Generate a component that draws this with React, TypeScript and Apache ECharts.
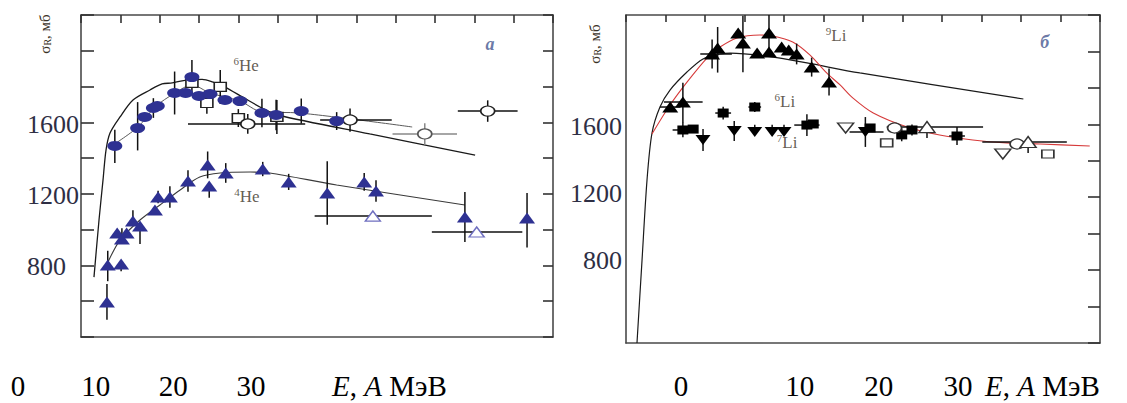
import React, { useEffect, useRef } from 'react';
import * as echarts from 'echarts';

// Each point: [E (МэВ/A), σR (мб), errDown, errUp, errLeft, errRight]
const he6Filled = [
  [4.3, 1468, 95, 90, 0, 0], [7.2, 1568, 125, 145, 0, 0], [8.1, 1630, 0, 0, 0, 0],
  [9.2, 1680, 55, 55, 0, 0], [9.7, 1691, 0, 0, 0, 0], [11.9, 1764, 120, 120, 0, 0],
  [13.3, 1764, 0, 0, 0, 0], [14.1, 1853, 90, 95, 0, 0], [15.0, 1747, 0, 0, 0, 0],
  [16.4, 1758, 0, 0, 0, 0], [18.3, 1725, 0, 0, 0, 0], [20.2, 1719, 0, 0, 0, 0],
  [23.0, 1652, 80, 80, 0, 0], [24.8, 1641, 85, 85, 0, 0], [28.0, 1663, 70, 70, 0, 0],
  [32.5, 1607, 50, 50, 0, 0],
];
const he6OpenSquares = [
  [14.1, 1820, 0, 0, 0, 0], [17.7, 1798, 95, 95, 0, 0], [16.0, 1708, 60, 0, 0, 0],
  [20.0, 1624, 50, 50, 0, 0], [24.9, 1630, 95, 95, 0, 0],
];
const he6OpenCircles = [
  [21.2, 1591, 55, 55, 7.6, 7.3], [34.2, 1613, 65, 65, 3.8, 5.3], [51.7, 1663, 60, 60, 3.8, 3.8],
];
const he6OpenCirclesFaint = [[43.7, 1535, 60, 60, 4.1, 4.1]];
const he4Filled = [
  [3.3, 596, 100, 100, 0, 0], [3.4, 802, 90, 80, 0, 0], [5.1, 808, 40, 0, 0, 0],
  [4.6, 981, 0, 0, 0, 0], [5.2, 948, 0, 60, 0, 0], [5.8, 981, 0, 0, 0, 0],
  [6.6, 1048, 0, 60, 0, 0], [7.5, 1020, 100, 0, 0, 0], [9.4, 1110, 0, 0, 0, 0],
  [9.8, 1183, 35, 35, 0, 0], [11.3, 1183, 60, 60, 0, 0], [13.6, 1272, 60, 60, 0, 0],
  [16.1, 1362, 75, 75, 0, 0], [16.3, 1244, 65, 0, 0, 0], [18.4, 1317, 55, 55, 0, 0],
  [23.1, 1339, 40, 40, 0, 0], [26.4, 1267, 45, 45, 0, 0], [31.3, 1205, 178, 178, 0, 0],
  [36.0, 1267, 50, 50, 0, 0], [37.5, 1216, 60, 60, 0, 0], [48.8, 1071, 140, 140, 0, 0],
  [56.7, 1065, 165, 140, 0, 0],
];
const he4Open = [[37.1, 1076, 0, 0, 7.4, 7.5], [50.3, 987, 0, 0, 5.7, 5.8]];

const he6Model = [
  [1.65, 735], [2.29, 1054], [2.8, 1278], [3.18, 1445], [3.69, 1540], [4.96, 1630],
  [6.61, 1725], [8.77, 1781], [10.3, 1815], [11.6, 1820], [13.2, 1835], [15.4, 1840],
  [16.7, 1826], [18.3, 1797], [20.5, 1742], [23.0, 1680], [25.0, 1641], [36.7, 1535], [50.1, 1417],
];
const he6Guide = [
  [3.69, 1462], [7.25, 1574], [9.41, 1686], [11.95, 1764], [14.1, 1809], [16.4, 1764],
  [20.2, 1719], [23.0, 1658], [27.8, 1652], [42.1, 1574],
];
const he4Guide = [
  [3.43, 819], [4.96, 942], [7.5, 1054], [10.04, 1138], [12.6, 1222], [15.1, 1294],
  [17.7, 1317], [21.5, 1322], [24.0, 1317], [32.5, 1250], [48.8, 1138],
];

const li9Filled = [
  [5.6, 1695, 0, 0, 1.3, 1.3], [7.2, 1723, 115, 105, 2.4, 2.5], [10.9, 1986, 80, 80, 1.5, 2.5],
  [11.6, 2019, 135, 115, 0, 0], [14.2, 2101, 0, 0, 0, 0], [14.8, 2046, 160, 150, 0, 0],
  [16.6, 1991, 0, 0, 0, 0], [18.1, 2101, 95, 99, 0, 0], [18.1, 1997, 0, 0, 0, 0],
  [19.7, 2024, 0, 0, 0, 0], [20.6, 2008, 0, 0, 0, 0], [21.6, 1986, 57, 57, 0, 0],
  [23.5, 1914, 52, 52, 0, 0], [25.7, 1832, 74, 74, 0, 0],
];
const li6Filled = [[12.3, 1662, 35, 35, 1.0, 1.0], [16.3, 1695, 27, 27, 0.8, 0.8]];
const li7Squares = [
  [7.2, 1569, 40, 40, 1.3, 1.3], [8.5, 1574, 0, 0, 0, 0], [22.9, 1596, 60, 60, 1.6, 1.6],
  [23.7, 1602, 0, 0, 0, 0], [30.9, 1580, 0, 0, 0, 0], [34.9, 1542, 35, 35, 0, 0],
  [36.2, 1569, 30, 30, 0, 0], [41.9, 1536, 50, 50, 1.0, 1.0],
];
const li7Down = [
  [9.75, 1514, 60, 60, 0, 0], [13.7, 1563, 55, 55, 0, 0], [16.3, 1558, 0, 40, 0, 0],
  [18.5, 1558, 0, 40, 0, 0], [20.0, 1558, 0, 40, 0, 0], [30.3, 1558, 82, 82, 2.0, 2.3],
];
const liOpenDown = [[27.8, 1580, 0, 0, 0, 0], [47.7, 1437, 0, 0, 0, 0]];
const liOpenCircles = [[34.0, 1580, 0, 0, 0, 0], [49.5, 1492, 0, 0, 0, 0]];
const liOpenUp = [[38.1, 1585, 60, 0, 5.1, 7.1], [50.9, 1503, 60, 0, 5.8, 4.9]];
const liOpenSquares = [[33.0, 1498, 0, 0, 0, 0], [53.4, 1437, 0, 0, 0, 0]];

const li9Model = [
  [1.39, 400], [2.03, 855], [2.66, 1294], [3.29, 1552], [4.3, 1695], [5.57, 1788],
  [7.72, 1887], [9.75, 1959], [11.9, 1986], [13.2, 1991], [18.2, 1972], [22.9, 1937],
  [29.6, 1882], [50.3, 1739],
];
const li9Fit = [
  [3.29, 1547], [5.57, 1706], [7.72, 1832], [10.25, 1964], [11.9, 2024], [14.05, 2074],
  [16.96, 2090], [18.6, 2085], [21.1, 2052], [23.3, 1980], [25.4, 1882], [27.1, 1816],
  [28.7, 1745], [31.3, 1662], [35.6, 1585], [39.7, 1541], [43.9, 1514], [48.2, 1498],
  [52.4, 1492], [58.7, 1481],
];

const leftNotes = [
  { name: '6He', value: [21.0, 1915] },
  { name: '4He', value: [21.1, 1183] },
  { name: 'а', value: [52.0, 2038] },
];
const rightNotes = [
  { name: '9Li', value: [26.6, 2085] },
  { name: '6Li', value: [20.1, 1723] },
  { name: '7Li', value: [20.4, 1503] },
  { name: 'б', value: [53.0, 2052] },
];

const yTickLabels = [800, 1200, 1600];
const leftXTickLabels = ['0', '10', '20', '30'];
const rightXTickLabels = ['0', '', '', '10', '', '20', '', '30'];
const xTitle = '{i|E}{n|, }{i|A}{n| МэВ}';
const yTitle = '{n|σ}{s|R}{n|, мб}';

const SERIF = '"Liberation Serif", "Times New Roman", serif';
const NAVY = '#2e3192';

function errSeries(data: number[][], xi: number, yi: number, color: string, width = 1.5) {
  return {
    type: 'custom', xAxisIndex: xi, yAxisIndex: yi, data, silent: true, z: 2,
    encode: { x: 0, y: 1 },
    renderItem: (_p: any, api: any) => {
      const x = api.value(0), y = api.value(1);
      const dn = api.value(2), up = api.value(3), l = api.value(4), r = api.value(5);
      const children: any[] = [];
      const style = { stroke: color, lineWidth: width };
      if (dn || up) {
        const a = api.coord([x, y - dn]), b = api.coord([x, y + up]);
        children.push({ type: 'line', shape: { x1: a[0], y1: a[1], x2: b[0], y2: b[1] }, style });
      }
      if (l || r) {
        const a = api.coord([x - l, y]), b = api.coord([x + r, y]);
        children.push({ type: 'line', shape: { x1: a[0], y1: a[1], x2: b[0], y2: b[1] }, style });
      }
      return { type: 'group', children };
    },
  };
}

function scatter(data: number[][], xi: number, yi: number, symbol: string, size: number[], fill: string, stroke: string, rotate = 0) {
  return {
    type: 'scatter', xAxisIndex: xi, yAxisIndex: yi, data, symbol, symbolSize: size, symbolRotate: rotate, z: 4,
    itemStyle: { color: fill, borderColor: stroke, borderWidth: fill === '#ffffff' ? 1.4 : 0, opacity: 1 },
    silent: true,
  };
}

function curve(data: number[][], xi: number, yi: number, color: string, width: number) {
  return {
    type: 'line', xAxisIndex: xi, yAxisIndex: yi, data, showSymbol: false, smooth: 0.3, z: 1,
    lineStyle: { color, width }, silent: true,
  };
}

function notes(data: any[], xi: number, yi: number) {
  return {
    type: 'scatter', xAxisIndex: xi, yAxisIndex: yi, data, symbolSize: 1, z: 6, silent: true,
    itemStyle: { color: 'transparent' },
    label: {
      show: true, position: 'inside',
      formatter: (p: any) => {
        const m = /^(\d+)(.*)$/.exec(p.name);
        return m ? `{s|${m[1]}}{b|${m[2]}}` : `{it|${p.name}}`;
      },
      rich: {
        s: { fontFamily: SERIF, fontSize: 11, color: '#3a3226', verticalAlign: 'top', lineHeight: 20 },
        b: { fontFamily: SERIF, fontSize: 17, color: '#3a3226', lineHeight: 20 },
        it: { fontFamily: SERIF, fontSize: 18, fontStyle: 'italic', fontWeight: 'bold', color: '#44558f' },
      },
    },
  };
}

const frameX = (grid: number, pos: string, tick: number) => ({
  type: 'value', gridIndex: grid, position: pos, min: 0, max: 60, interval: 5,
  axisLine: { show: true, onZero: false, lineStyle: { color: '#4a4a4a', width: 1.6 } },
  axisTick: { show: tick > 0, inside: true, length: tick, lineStyle: { color: '#333', width: 1.6 } },
  axisLabel: { show: false }, splitLine: { show: false },
});
const frameY = (grid: number, pos: string, tick: number) => ({
  type: 'value', gridIndex: grid, position: pos, min: 400, max: 2200, interval: 200,
  axisLine: { show: true, onZero: false, lineStyle: { color: '#4a4a4a', width: 1.6 } },
  axisTick: { show: tick > 0, inside: true, length: tick, lineStyle: { color: '#333', width: 1.6 } },
  axisLabel: { show: false }, splitLine: { show: false },
});
const hiddenAxis = (grid: number) => ({ type: 'value', gridIndex: grid, show: false, min: 0, max: 1 });
const yLabelAxis = (grid: number, align: string, margin: number) => ({
  type: 'value', gridIndex: grid, min: 800, max: 1600, interval: 400,
  axisLine: { show: false }, axisTick: { show: false }, splitLine: { show: false },
  axisLabel: {
    show: true, align, margin, fontFamily: SERIF, fontSize: 26, color: '#2e2e44',
    formatter: (v: number) => (yTickLabels.includes(v) ? String(v) : ''),
  },
});
const xLabelAxis = (grid: number, labels: string[], nameGap: number) => ({
  type: 'category', gridIndex: grid, data: labels, boundaryGap: false,
  axisLine: { show: false }, axisTick: { show: false }, splitLine: { show: false },
  axisLabel: { show: true, interval: 0, margin: 0, verticalAlign: 'middle', fontFamily: SERIF, fontSize: 29, color: '#000' },
  name: xTitle, nameLocation: 'end', nameGap,
  nameTextStyle: {
    fontFamily: SERIF, fontSize: 29, color: '#000', align: 'left', verticalAlign: 'middle',
    rich: {
      i: { fontFamily: SERIF, fontSize: 29, fontStyle: 'italic', color: '#000' },
      n: { fontFamily: SERIF, fontSize: 29, color: '#000' },
    },
  },
});

export default function App() {
  const ref = useRef<HTMLDivElement>(null);
  useEffect(() => {
    if (!ref.current) return;
    const chart = echarts.init(ref.current, null, { renderer: 'svg' });
    const yTitleText = (x: number, y: number) => ({
      type: 'text', x, y, rotation: Math.PI / 2,
      style: {
        text: yTitle, align: 'center', verticalAlign: 'middle', fill: '#3a3226',
        fontFamily: SERIF, fontSize: 15,
        rich: {
          n: { fontFamily: SERIF, fontSize: 15, fill: '#3a3226' },
          s: { fontFamily: SERIF, fontSize: 10, fill: '#3a3226', verticalAlign: 'bottom' },
        },
      },
    });
    chart.setOption({
      animation: false,
      backgroundColor: '#ffffff',
      grid: [
        { left: 81, top: 15, width: 472, height: 322 },
        { left: 626, top: 15, width: 474, height: 328 },
        { left: 81, top: 124, width: 10, height: 142 },
        { left: 626, top: 126, width: 10, height: 134 },
        { left: 18, top: 385, width: 233, height: 1 },
        { left: 681, top: 385, width: 277, height: 1 },
      ],
      xAxis: [
        frameX(0, 'bottom', 0), frameX(0, 'top', 8),
        frameX(1, 'bottom', 0), frameX(1, 'top', 7),
        hiddenAxis(2), hiddenAxis(3),
        xLabelAxis(4, leftXTickLabels, 81), xLabelAxis(5, rightXTickLabels, 27),
      ],
      yAxis: [
        frameY(0, 'left', 13), frameY(0, 'right', 10),
        frameY(1, 'left', 0), frameY(1, 'right', 12),
        yLabelAxis(2, 'left', 54), yLabelAxis(3, 'right', 4),
        hiddenAxis(4), hiddenAxis(5),
      ],
      graphic: [yTitleText(45, 34), yTitleText(595, 44)],
      series: [
        // left panel
        curve(he6Model, 0, 0, '#1a1a1a', 1.3),
        curve(he6Guide, 0, 0, '#5a5a5a', 1),
        curve(he4Guide, 0, 0, '#3a3a3a', 1.1),
        errSeries(he6Filled, 0, 0, '#111'),
        errSeries(he6OpenSquares, 0, 0, '#111'),
        errSeries(he6OpenCircles, 0, 0, '#111'),
        errSeries(he6OpenCirclesFaint, 0, 0, '#888'),
        errSeries(he4Filled, 0, 0, '#111'),
        errSeries(he4Open, 0, 0, '#111'),
        scatter(he6OpenSquares, 0, 0, 'rect', [12, 9], '#ffffff', '#222'),
        scatter(he6OpenCircles, 0, 0, 'circle', [14, 10], '#ffffff', '#222'),
        scatter(he6OpenCirclesFaint, 0, 0, 'circle', [14, 10], '#ffffff', '#555'),
        scatter(he6Filled, 0, 0, 'circle', [15, 10], NAVY, NAVY),
        scatter(he4Filled, 0, 0, 'triangle', [16, 11], NAVY, NAVY),
        scatter(he4Open, 0, 0, 'triangle', [15, 10], '#ffffff', '#6f6fc0'),
        notes(leftNotes, 0, 0),
        // right panel
        curve(li9Model, 2, 2, '#1a1a1a', 1.2),
        curve(li9Fit, 2, 2, '#d63a3a', 1.1),
        errSeries(li9Filled, 2, 2, '#111'),
        errSeries(li6Filled, 2, 2, '#111'),
        errSeries(li7Squares, 2, 2, '#111'),
        errSeries(li7Down, 2, 2, '#111'),
        errSeries(liOpenUp, 2, 2, '#111'),
        errSeries(liOpenCircles, 2, 2, '#111'),
        scatter(li9Filled, 2, 2, 'triangle', [16, 11], '#000', '#000'),
        scatter(li6Filled, 2, 2, 'rect', [11, 9], '#000', '#000'),
        scatter(li7Squares, 2, 2, 'rect', [11, 9], '#000', '#000'),
        scatter(li7Down, 2, 2, 'triangle', [15, 10], '#000', '#000', 180),
        scatter(liOpenDown, 2, 2, 'triangle', [16, 10], '#ffffff', '#333', 180),
        scatter(liOpenCircles, 2, 2, 'circle', [14, 10], '#ffffff', '#333'),
        scatter(liOpenUp, 2, 2, 'triangle', [16, 11], '#ffffff', '#333'),
        scatter(liOpenSquares, 2, 2, 'rect', [12, 8], '#ffffff', '#333'),
        notes(rightNotes, 2, 2),
      ],
    });
    return () => chart.dispose();
  }, []);
  return (
    <div
      ref={ref}
      style={{ position: 'absolute', left: 0, top: 0, width: 1127, height: 403, background: '#fff' }}
    />
  );
}
